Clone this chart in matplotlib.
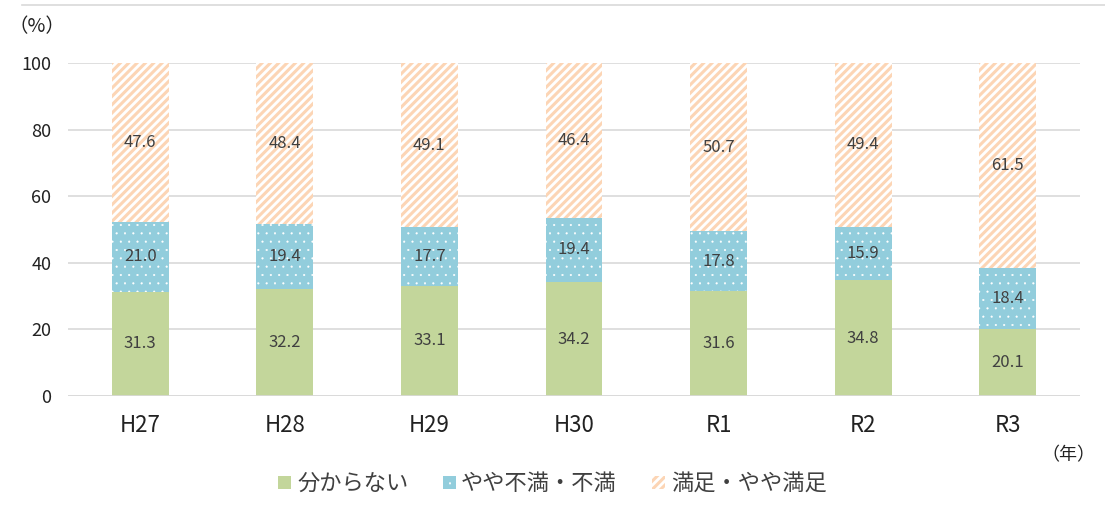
import matplotlib
matplotlib.use("Agg")
import matplotlib.pyplot as plt
from matplotlib.patches import Rectangle
from matplotlib.lines import Line2D

plt.rcParams['font.family'] = ['Noto Sans CJK JP', 'DejaVu Sans']

categories = ["H27", "H28", "H29", "H30", "R1", "R2", "R3"]
unknown = [31.3, 32.2, 33.1, 34.2, 31.6, 34.8, 20.1]
dissatisfied = [21.0, 19.4, 17.7, 19.4, 17.8, 15.9, 18.4]
satisfied = [47.6, 48.4, 49.1, 46.4, 50.7, 49.4, 61.5]
series_names = ["分からない", "やや不満・不満", "満足・やや満足"]
yticks = [0, 20, 40, 60, 80, 100]

green = "#C3D69B"
blue = "#92CDDC"
peach = "#FCD5B5"
textc = "#404040"
W, H = 1105, 513


def set_hlw(patch, lw):
    if hasattr(patch, "set_hatch_linewidth"):
        patch.set_hatch_linewidth(lw)
    else:
        patch._hatch_linewidth = lw


fig = plt.figure(figsize=(W / 100, H / 100), dpi=100)
ax = fig.add_axes([68/W, 1-396/H, (1080-68)/W, (396-63)/H])

x = list(range(len(categories)))
w = 0.394
b1 = ax.bar(x, unknown, w, color=green, linewidth=0, zorder=3)
b2 = ax.bar(x, dissatisfied, w, bottom=unknown, color=blue, hatch='..', edgecolor='white', linewidth=0, zorder=3)
bottom3 = [a + b for a, b in zip(unknown, dissatisfied)]
b3 = ax.bar(x, satisfied, w, bottom=bottom3, color='white', hatch='////', edgecolor=peach, linewidth=0, zorder=3)
for p in b2:
    set_hlw(p, 0.3)
for p in b3:
    set_hlw(p, 2.2)

for i in x:
    ax.text(i, unknown[i] / 2, f"{unknown[i]:.1f}", ha='center', va='center', fontsize=12, color=textc, zorder=5)
    ax.text(i, unknown[i] + dissatisfied[i] / 2, f"{dissatisfied[i]:.1f}", ha='center', va='center', fontsize=12, color=textc, zorder=5)
    ax.text(i, bottom3[i] + satisfied[i] / 2, f"{satisfied[i]:.1f}", ha='center', va='center', fontsize=12, color=textc, zorder=5)

ax.set_xlim(-0.5, len(categories) - 0.5)
ax.set_ylim(0, 100)
ax.set_yticks(yticks)
ax.set_yticklabels([str(v) for v in yticks], fontsize=13, color='#222222')
ax.set_xticks(x)
ax.set_xticklabels(categories, fontsize=16, color='#222222')
ax.tick_params(axis='both', length=0)
ax.tick_params(axis='y', pad=12)
ax.tick_params(axis='x', pad=13)
ax.grid(axis='y', color='#D9D9D9', linewidth=1.2, zorder=0)
for s in ax.spines.values():
    s.set_visible(False)
ax.axhline(0, color='#D9D9D9', linewidth=1.2, zorder=4)

fig.text(37/W, 1-27/H, "（%）", ha='center', va='center', fontsize=14, color='#222222')
fig.text(1068/W, 1-455/H, "（年）", ha='center', va='center', fontsize=13, color='#222222')

# top border line
fig.add_artist(Line2D([0.02, 1.0], [1-5/H, 1-5/H], color='#D9D9D9', linewidth=1.2, transform=fig.transFigure))

# legend (manual placement)
leg_patch_x = [278, 443, 652]
leg_text_x = [298, 461, 671]
styles = [
    dict(facecolor=green, linewidth=0),
    dict(facecolor=blue, hatch='..', edgecolor='white', linewidth=0),
    dict(facecolor='white', hatch='////', edgecolor=peach, linewidth=0),
]
hlws = [0, 0.3, 2.2]
for px, tx, st, lw, name in zip(leg_patch_x, leg_text_x, styles, hlws, series_names):
    r = Rectangle((px / W, 1 - 489 / H), 13 / W, 13 / H, transform=fig.transFigure, **st)
    if lw:
        set_hlw(r, lw)
    fig.add_artist(r)
    fig.text(tx / W, 1 - 483 / H, name, ha='left', va='center', fontsize=16, color=textc)

fig.savefig("out.png", dpi=100)
